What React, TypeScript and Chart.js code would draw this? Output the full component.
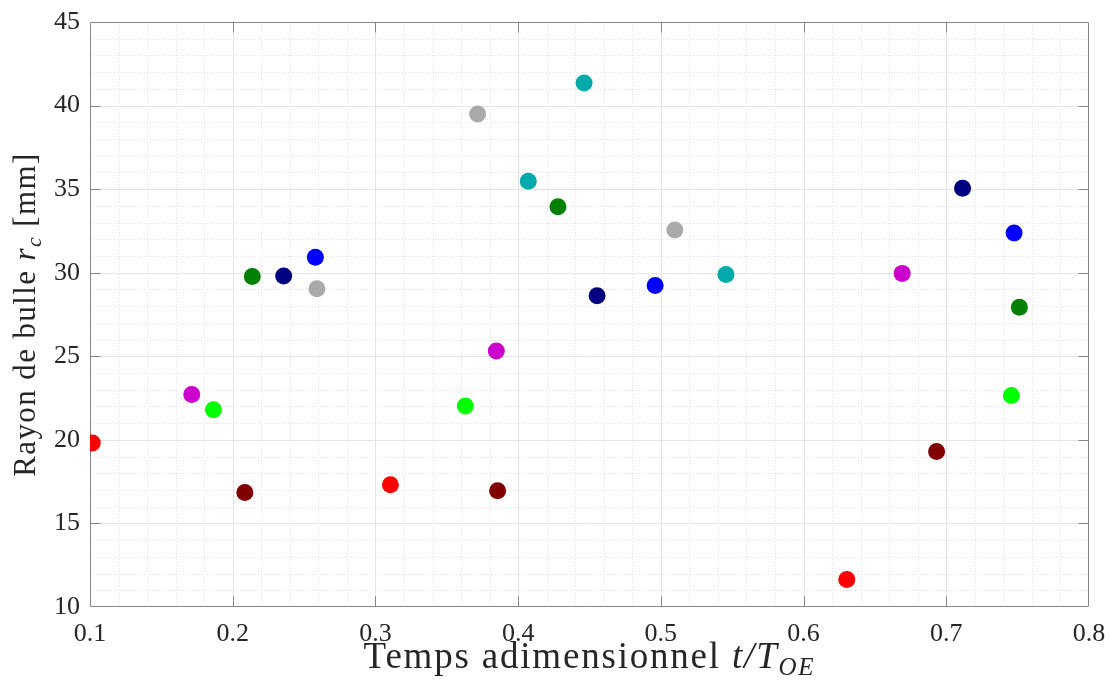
import React, { useEffect, useRef } from "react";
import { Chart, registerables } from "chart.js";

Chart.register(...registerables);

// Each colour group: [t/T_OE, r_c]
const redPts = [[0.1016, 19.81], [0.3105, 17.31], [0.6303, 11.65]];
const magentaPts = [[0.1713, 22.72], [0.3847, 25.31], [0.6691, 29.96]];
const limePts = [[0.1865, 21.8], [0.363, 22.02], [0.7456, 22.66]];
const darkRedPts = [[0.2085, 16.85], [0.3856, 16.95], [0.6932, 19.31]];
const greenPts = [[0.2137, 29.78], [0.4279, 33.95], [0.7512, 27.93]];
const navyPts = [[0.2357, 29.8], [0.4553, 28.62], [0.7114, 35.05]];
const bluePts = [[0.2579, 30.92], [0.496, 29.24], [0.7475, 32.37]];
const grayPts = [[0.259, 29.04], [0.3716, 39.49], [0.5098, 32.55]];
const cyanPts = [[0.4071, 35.47], [0.4462, 41.35], [0.5456, 29.9]];

const seriesList = [redPts, magentaPts, limePts, darkRedPts, greenPts, navyPts, bluePts, grayPts, cyanPts];
const seriesColors = ["#ff0000", "#cc00cc", "#00ff00", "#800000", "#008000", "#000080", "#0000ff", "#aaaaaa", "#00aaaa"];

const xMin = 0.1, xMax = 0.8, xMajor = 0.1, xMinor = 0.02;
const yMin = 10, yMax = 45, yMajor = 5, yMinor = 1;

const SERIF = '"Liberation Serif", "DejaVu Serif", serif';

type Part = { text: string; font: string; dy: number };

function drawParts(ctx: any, parts: Part[], cx: number, baseline: number, spacing: number) {
  ctx.letterSpacing = `${spacing}px`;
  let total = 0;
  const widths = parts.map((p) => {
    ctx.font = p.font;
    const w = ctx.measureText(p.text).width;
    total += w;
    return w;
  });
  let x = cx - total / 2;
  ctx.textAlign = "left";
  ctx.textBaseline = "alphabetic";
  parts.forEach((p, i) => {
    ctx.font = p.font;
    ctx.fillText(p.text, x, baseline + p.dy);
    x += widths[i];
  });
  ctx.letterSpacing = "0px";
}

const framePlugin = {
  id: "matlabFrame",
  beforeDatasetsDraw(chart: any) {
    const { ctx, chartArea: a, scales } = chart;
    const xs = scales.x, ys = scales.y;
    ctx.save();
    // minor grid (dotted)
    ctx.strokeStyle = "#e2e2e2";
    ctx.lineWidth = 1;
    ctx.setLineDash([1, 2]);
    const nx = Math.round((xMax - xMin) / xMinor);
    for (let i = 1; i < nx; i++) {
      if (i % 5 === 0) continue;
      const px = Math.round(xs.getPixelForValue(xMin + i * xMinor)) + 0.5;
      ctx.beginPath(); ctx.moveTo(px, a.top); ctx.lineTo(px, a.bottom); ctx.stroke();
    }
    const ny = Math.round((yMax - yMin) / yMinor);
    for (let i = 1; i < ny; i++) {
      if (i % 5 === 0) continue;
      const py = Math.round(ys.getPixelForValue(yMin + i * yMinor)) + 0.5;
      ctx.beginPath(); ctx.moveTo(a.left, py); ctx.lineTo(a.right, py); ctx.stroke();
    }
    // major grid (solid)
    ctx.setLineDash([]);
    ctx.strokeStyle = "#e4e4e4";
    for (let i = 1; i < Math.round((xMax - xMin) / xMajor); i++) {
      const px = Math.round(xs.getPixelForValue(xMin + i * xMajor)) + 0.5;
      ctx.beginPath(); ctx.moveTo(px, a.top); ctx.lineTo(px, a.bottom); ctx.stroke();
    }
    for (let i = 1; i < Math.round((yMax - yMin) / yMajor); i++) {
      const py = Math.round(ys.getPixelForValue(yMin + i * yMajor)) + 0.5;
      ctx.beginPath(); ctx.moveTo(a.left, py); ctx.lineTo(a.right, py); ctx.stroke();
    }
    // box and inward ticks
    ctx.strokeStyle = "#858585";
    ctx.lineWidth = 1;
    const L = Math.round(a.left) + 0.5, R = Math.round(a.right) - 0.5;
    const T = Math.round(a.top) + 0.5, B = Math.round(a.bottom) - 0.5;
    ctx.beginPath();
    ctx.rect(L, T, R - L, B - T);
    ctx.stroke();
    const tl = 10;
    for (let i = 1; i < Math.round((xMax - xMin) / xMajor); i++) {
      const px = Math.round(xs.getPixelForValue(xMin + i * xMajor)) + 0.5;
      ctx.beginPath(); ctx.moveTo(px, B); ctx.lineTo(px, B - tl); ctx.stroke();
      ctx.beginPath(); ctx.moveTo(px, T); ctx.lineTo(px, T + tl); ctx.stroke();
    }
    for (let i = 1; i < Math.round((yMax - yMin) / yMajor); i++) {
      const py = Math.round(ys.getPixelForValue(yMin + i * yMajor)) + 0.5;
      ctx.beginPath(); ctx.moveTo(L, py); ctx.lineTo(L + tl, py); ctx.stroke();
      ctx.beginPath(); ctx.moveTo(R, py); ctx.lineTo(R - tl, py); ctx.stroke();
    }
    ctx.restore();
  },
  afterDraw(chart: any) {
    const { ctx, chartArea: a } = chart;
    ctx.save();
    ctx.fillStyle = "#262626";
    const cx = (a.left + a.right) / 2;
    drawParts(ctx, [
      { text: "Temps adimensionnel ", font: `37px ${SERIF}`, dy: 0 },
      { text: "t/T", font: `italic 37px ${SERIF}`, dy: 0 },
      { text: "OE", font: `italic 25px ${SERIF}`, dy: 7 },
    ], cx, 668, 1.8);
    const cy = (a.top + a.bottom) / 2;
    ctx.translate(35, cy);
    ctx.rotate(-Math.PI / 2);
    drawParts(ctx, [
      { text: "Rayon de bulle ", font: `31px ${SERIF}`, dy: 0 },
      { text: "r", font: `italic 31px ${SERIF}`, dy: 0 },
      { text: "c", font: `italic 22px ${SERIF}`, dy: 6 },
      { text: " [mm]", font: `31px ${SERIF}`, dy: 0 },
    ], 0, 0, 1.4);
    ctx.restore();
  },
};

export default function App() {
  const canvasRef = useRef<HTMLCanvasElement | null>(null);

  useEffect(() => {
    if (!canvasRef.current) return;
    const datasets = seriesList.map((pts, i) => ({
      data: pts.map(([x, y]) => ({ x, y })),
      backgroundColor: seriesColors[i],
      borderColor: seriesColors[i],
      borderWidth: 0,
      pointRadius: 8.5,
      pointHoverRadius: 8.5,
      showLine: false,
    }));
    const chart = new Chart(canvasRef.current, {
      type: "scatter",
      data: { datasets },
      options: {
        animation: false,
        responsive: true,
        maintainAspectRatio: false,
        layout: { padding: { left: 0, right: 22, top: 22, bottom: 0 } },
        plugins: { legend: { display: false }, tooltip: { enabled: false } },
        scales: {
          x: {
            type: "linear",
            min: xMin,
            max: xMax,
            grid: { display: false, drawTicks: false },
            border: { display: false },
            ticks: {
              stepSize: xMajor,
              color: "#262626",
              font: { family: SERIF, size: 26 },
              padding: 12,
              maxRotation: 0,
              callback: (v: any) => (Math.round(Number(v) * 10) / 10).toString(),
            },
            afterFit: (s: any) => { s.height = 79; s.paddingLeft = 0; s.paddingRight = 0; },
          },
          y: {
            type: "linear",
            min: yMin,
            max: yMax,
            grid: { display: false, drawTicks: false },
            border: { display: false },
            ticks: {
              stepSize: yMajor,
              color: "#262626",
              font: { family: SERIF, size: 26 },
              padding: 10,
            },
            afterFit: (s: any) => { s.width = 90; s.paddingTop = 0; s.paddingBottom = 0; },
          },
        },
      },
      plugins: [framePlugin],
    });
    return () => chart.destroy();
  }, []);

  return (
    <div style={{ position: "absolute", left: 0, top: 0, width: 1111, height: 686, background: "#fff" }}>
      <canvas ref={canvasRef} />
    </div>
  );
}
